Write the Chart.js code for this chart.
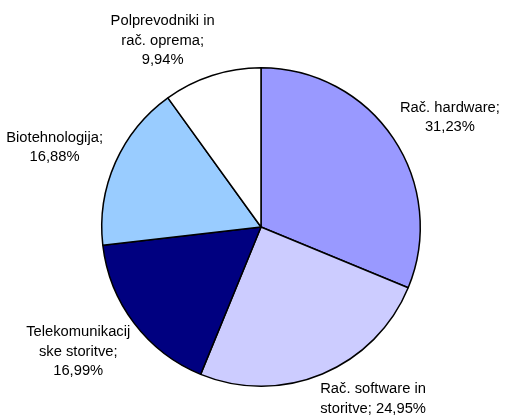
<!DOCTYPE html>
<html>
<head>
<meta charset="utf-8">
<script src="https://cdn.jsdelivr.net/npm/chart.js@4.4.0/dist/chart.umd.min.js"></script>
<style>
  html, body { margin: 0; padding: 0; background: #fff; }
  #wrap { width: 505px; height: 419px; }
</style>
</head>
<body>
<div id="wrap"><canvas id="pieChart" width="505" height="419"></canvas></div>
<script>
const categories = ['Rač. hardware', 'Rač. software in storitve', 'Telekomunikacijske storitve', 'Biotehnologija', 'Polprevodniki in rač. oprema']
const shares = [31.23, 24.95, 16.99, 16.88, 9.94]
// label text as wrapped in the original
const labelLines = [
  ['Rač. hardware;', '31,23%'],
  ['Rač. software in', 'storitve; 24,95%'],
  ['Telekomunikacij', 'ske storitve;', '16,99%'],
  ['Biotehnologija;', '16,88%'],
  ['Polprevodniki in', 'rač. oprema;', '9,94%']
]
const colors = ['#9999FF', '#CCCCFF', '#000080', '#99CCFF', '#FFFFFF']

const lineH = 19.5
const gap = 18
const topRoom = 11
const bottomRoom = 0

// labels sit just outside the slice, turned away from top/bottom edge if they don't fit
const sliceLabels = {
  id: 'sliceLabels',
  afterDatasetsDraw(chart) {
    const ctx = chart.ctx
    const H = chart.height
    const meta = chart.getDatasetMeta(0)
    ctx.save()
    ctx.font = '14.75px "Liberation Sans", Arial, sans-serif'
    ctx.fillStyle = '#000'
    ctx.textAlign = 'center'
    ctx.textBaseline = 'middle'
    meta.data.forEach(function(arc, i) {
      const p = arc.getProps(['x', 'y', 'startAngle', 'endAngle', 'outerRadius'], true)
      const lines = labelLines[i]
      let w = 0
      lines.forEach(function(t) { w = Math.max(w, ctx.measureText(t).width) })
      const h = lines.length * lineH
      const r = p.outerRadius + gap
      let a = (p.startAngle + p.endAngle) / 2
      let cx, cy
      for (let n = 0; n < 200; n++) {
        const dx = Math.cos(a), dy = Math.sin(a)
        cx = p.x + dx * r + dx * w / 2
        cy = p.y + dy * r + dy * h / 2
        const step = Math.PI / 360
        if (cy + h / 2 > H - bottomRoom) a -= Math.sign(dx) * step
        else if (cy - h / 2 < topRoom) a += Math.sign(dx) * step
        else break
      }
      lines.forEach(function(t, k) {
        ctx.fillText(t, cx, cy - h / 2 + lineH * (k + 0.5))
      })
    })
    ctx.restore()
  }
}

new Chart(document.getElementById('pieChart'), {
  type: 'pie',
  data: {
    labels: categories,
    datasets: [{
      data: shares,
      backgroundColor: colors,
      borderColor: '#000',
      borderWidth: 1.5
    }]
  },
  options: {
    responsive: false,
    animation: false,
    layout: { padding: { left: 101, right: 84, top: 67, bottom: 32 } },
    plugins: {
      legend: { display: false },
      tooltip: { enabled: false }
    }
  },
  plugins: [sliceLabels]
})
</script>
</body>
</html>
